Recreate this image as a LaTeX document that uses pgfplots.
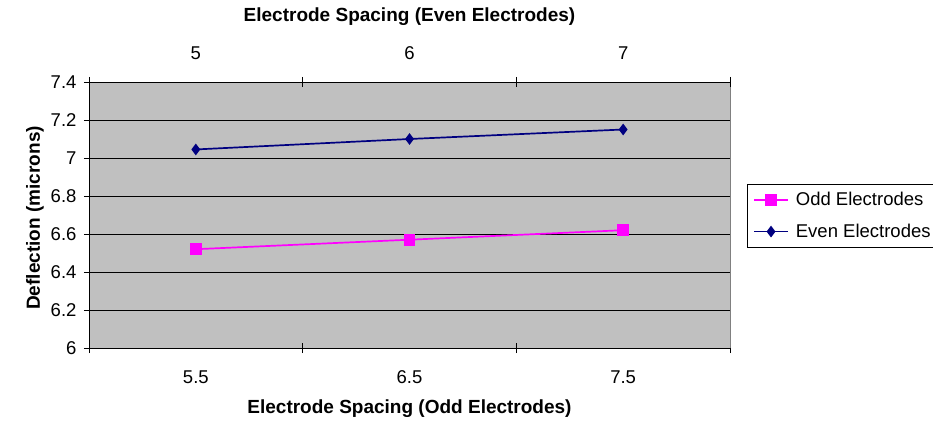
\documentclass[border=0pt]{standalone}
\usepackage{fontspec}
\setmainfont{Liberation Sans}
\usepackage{pgfplots}
\pgfplotsset{compat=1.18}
\definecolor{plotgray}{HTML}{C0C0C0}
\definecolor{oddc}{HTML}{FF00FF}
\definecolor{evenc}{HTML}{000080}
\begin{document}
\begin{tikzpicture}[x=1pt,y=1pt]
\useasboundingbox (0,0) rectangle (933,-422);
\begin{axis}[
  at={(89pt,-348pt)}, anchor=south west,
  scale only axis, width=641pt, height=266pt,
  xmin=0, xmax=3, ymin=6, ymax=7.4,
  axis background/.style={fill=plotgray},
  axis x line*=bottom, axis y line*=left,
  axis line style={black, line width=0.8pt, -},
  /pgf/number format/assume math mode=true,
  tick align=center, major tick length=10pt,
  tick style={black, line width=0.8pt},
  xtick={0,1,2,3}, xticklabels={},
  extra x ticks={0.5,1.5,2.5},
  extra x tick labels={5.5,6.5,7.5},
  extra x tick style={major tick length=0pt,
    xticklabel style={anchor=center, yshift=-29pt}},
  xticklabel style={font=\fontsize{18.5}{20}\selectfont},
  ytick={6,6.2,...,7.4},
  yticklabel style={font=\fontsize{18.5}{20}\selectfont, xshift=-4pt},
  ymajorgrids, grid style={black, line width=0.8pt},
  xlabel={\bfseries Electrode Spacing (Odd Electrodes)},
  xlabel style={font=\fontsize{19}{21}\selectfont, at={(axis description cs:0.5,-0.229)}, anchor=center},
  ylabel={\bfseries Deflection (microns)},
  ylabel style={font=\fontsize{19}{21}\selectfont, at={(axis description cs:-0.0842,0.489)}, anchor=center, rotate=0},
  legend style={at={(1.0265,0.6165)}, anchor=north west, draw=black, fill=white,
    font=\fontsize{18.5}{20}\selectfont, inner xsep=6pt, inner ysep=6pt, row sep=13pt,
    /tikz/every odd column/.append style={column sep=5pt}},
  legend cell align=left,
  legend image code/.code={\draw[#1, mark repeat=2, mark phase=2] plot coordinates {(0pt,0pt) (17pt,0pt) (34pt,0pt)};},
  clip=false,
]
\addplot[oddc, line width=1.7pt, mark=square*, mark size=5pt, mark options={solid}] coordinates {(0.5,6.52) (1.5,6.57) (2.5,6.62)};
\addlegendentry{Odd Electrodes}
\addplot[evenc, line width=1.7pt, mark=diamond*, mark size=4.5pt, mark options={solid}] coordinates {(0.5,7.045) (1.5,7.10) (2.5,7.15)};
\addlegendentry{Even Electrodes}
\draw[gray, line width=0.8pt] (axis cs:3,6) -- (axis cs:3,7.4);
\end{axis}
\begin{axis}[
  at={(89pt,-348pt)}, anchor=south west,
  scale only axis, width=641pt, height=266pt,
  xmin=0, xmax=3, ymin=6, ymax=7.4,
  axis x line*=top, axis y line=none,
  axis line style={black, line width=0.8pt, -},
  tick align=center, major tick length=10pt,
  tick style={black, line width=0.8pt},
  xtick={0,1,2,3}, xticklabels={},
  extra x ticks={0.5,1.5,2.5},
  extra x tick labels={5,6,7},
  extra x tick style={major tick length=0pt,
    xticklabel style={anchor=center, yshift=29pt}},
  xticklabel style={font=\fontsize{18.5}{20}\selectfont},
  xlabel={\bfseries Electrode Spacing (Even Electrodes)},
  xlabel style={font=\fontsize{19}{21}\selectfont, at={(axis description cs:0.5,1.244)}, anchor=center},
]
\addplot[draw=none] coordinates {(0,6) (3,7.4)};
\end{axis}
\end{tikzpicture}
\end{document}
